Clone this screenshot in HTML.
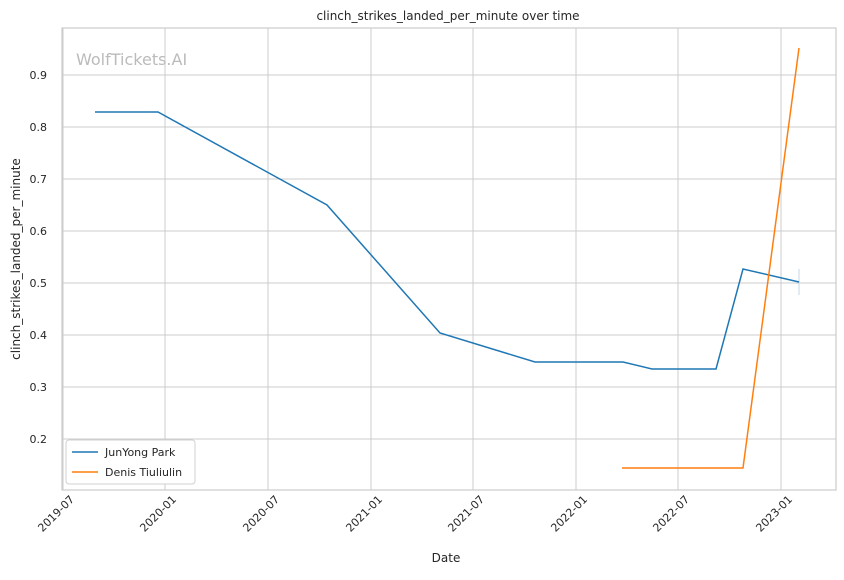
<!DOCTYPE html>
<html><head><meta charset="utf-8"><style>
body{margin:0;background:#fff;}
svg text{font-family:"DejaVu Sans","Liberation Sans",sans-serif;fill:#262626;}
</style></head><body>
<svg width="844" height="575" xmlns="http://www.w3.org/2000/svg">
<rect width="844" height="575" fill="#fff"/>
<g stroke="#cccccc" stroke-width="1">
<line x1="62" x2="836" y1="75" y2="75"/><line x1="62" x2="836" y1="127" y2="127"/>
<line x1="62" x2="836" y1="179" y2="179"/><line x1="62" x2="836" y1="231" y2="231"/>
<line x1="62" x2="836" y1="283" y2="283"/><line x1="62" x2="836" y1="335" y2="335"/>
<line x1="62" x2="836" y1="387" y2="387"/><line x1="62" x2="836" y1="439" y2="439"/>
<line x1="63" x2="63" y1="28" y2="490"/><line x1="165" x2="165" y1="28" y2="490"/>
<line x1="268" x2="268" y1="28" y2="490"/><line x1="371" x2="371" y1="28" y2="490"/>
<line x1="473" x2="473" y1="28" y2="490"/><line x1="576" x2="576" y1="28" y2="490"/>
<line x1="678" x2="678" y1="28" y2="490"/><line x1="781" x2="781" y1="28" y2="490"/>
</g>
<rect x="62" y="28" width="774" height="462" fill="none" stroke="#cccccc" stroke-width="1.2"/>
<text x="76" y="65" font-size="16" style="fill:#bbbbbb">WolfTickets.AI</text>
<line x1="799" x2="799" y1="269" y2="295" stroke="#c5d5e5" stroke-width="1"/>
<polyline fill="none" stroke="#1f77b4" stroke-width="1.5" points="95,112 158,112 327,205 440,333 535,362 623,362 652,369 716,369 743,269 799,282"/>
<polyline fill="none" stroke="#ff7f0e" stroke-width="1.5" points="622,468 743,468 799,48"/>
<g font-size="11" text-anchor="end">
<text x="47" y="79">0.9</text><text x="47" y="131">0.8</text><text x="47" y="183">0.7</text>
<text x="47" y="235">0.6</text><text x="47" y="287">0.5</text><text x="47" y="339">0.4</text>
<text x="47" y="391">0.3</text><text x="47" y="443">0.2</text>
</g>
<g font-size="11" text-anchor="end">
<text transform="translate(75,500) rotate(-45)">2019-07</text>
<text transform="translate(177,500) rotate(-45)">2020-01</text>
<text transform="translate(280,500) rotate(-45)">2020-07</text>
<text transform="translate(383,500) rotate(-45)">2021-01</text>
<text transform="translate(485,500) rotate(-45)">2021-07</text>
<text transform="translate(588,500) rotate(-45)">2022-01</text>
<text transform="translate(690,500) rotate(-45)">2022-07</text>
<text transform="translate(793,500) rotate(-45)">2023-01</text>
</g>
<text x="446" y="562" font-size="12" text-anchor="middle">Date</text>
<text transform="translate(20,259) rotate(-90)" font-size="12" text-anchor="middle">clinch_strikes_landed_per_minute</text>
<text x="448" y="20" font-size="12" text-anchor="middle">clinch_strikes_landed_per_minute over time</text>
<rect x="66" y="440" width="129" height="44" rx="3" fill="#fff" stroke="#d0d0d0"/>
<line x1="72" x2="98" y1="452" y2="452" stroke="#1f77b4" stroke-width="1.5"/>
<text x="105" y="456" font-size="11">JunYong Park</text>
<line x1="72" x2="98" y1="472" y2="472" stroke="#ff7f0e" stroke-width="1.5"/>
<text x="105" y="476" font-size="11">Denis Tiuliulin</text>
</svg>
</body></html>
